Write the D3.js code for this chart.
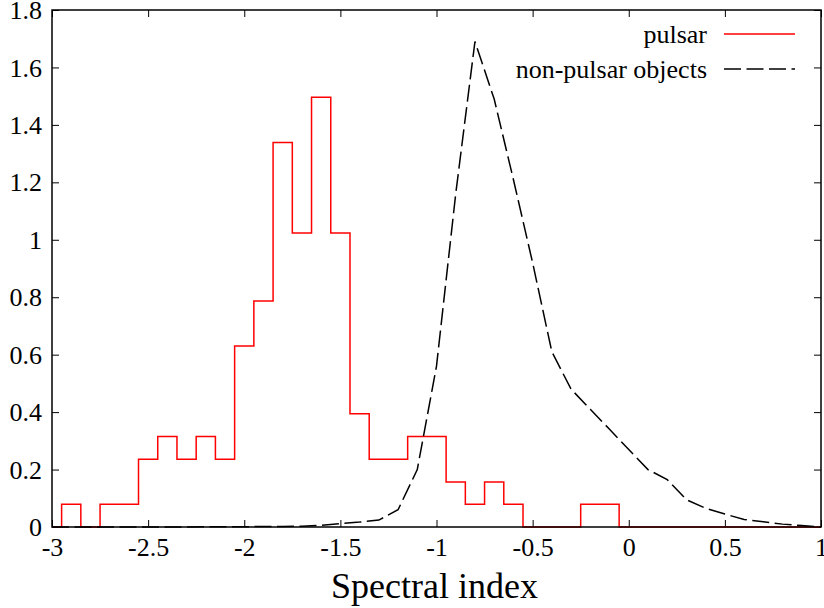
<!DOCTYPE html>
<html>
<head>
<meta charset="utf-8">
<script src="https://cdn.jsdelivr.net/npm/d3@7"></script>
<style>
  body { margin: 0; background: #fff; }
  svg text { font-family: "Liberation Serif", "Times New Roman", serif; fill: #000; }
</style>
</head>
<body>
<div id="chart"></div>
<script>
var svgWidth = 824;
var svgHeight = 608;

var margin = { top: 10, right: 3, bottom: 81, left: 52 };

var width = svgWidth - margin.left - margin.right;
var height = svgHeight - margin.top - margin.bottom;

// pulsar histogram, bin width 0.1, centres below
var binCenters = [-2.9, -2.8, -2.7, -2.6, -2.5, -2.4, -2.3, -2.2, -2.1, -2.0,
  -1.9, -1.8, -1.7, -1.6, -1.5, -1.4, -1.3, -1.2, -1.1, -1.0,
  -0.9, -0.8, -0.7, -0.6, -0.5, -0.4, -0.3, -0.2, -0.1, 0.0,
  0.1, 0.2, 0.3, 0.4, 0.5, 0.6, 0.7, 0.8, 0.9];
var pulsarValues = [0.079, 0, 0.079, 0.079, 0.236, 0.315, 0.236, 0.315, 0.236, 0.630,
  0.787, 1.339, 1.024, 1.496, 1.024, 0.394, 0.236, 0.236, 0.315, 0.315,
  0.157, 0.079, 0.157, 0.079, 0, 0, 0, 0.079, 0.079, 0,
  0, 0, 0, 0, 0, 0, 0, 0, 0];
var binWidth = 0.1;

// non-pulsar density curve
var otherX = [-3.0, -2.9, -2.8, -2.7, -2.6, -2.5, -2.4, -2.3, -2.2, -2.1, -2.0,
  -1.9, -1.8, -1.7, -1.6, -1.5, -1.4, -1.3, -1.2, -1.1, -1.0,
  -0.9, -0.8, -0.7, -0.6, -0.5, -0.4, -0.3, -0.2, -0.1, 0.0,
  0.1, 0.2, 0.3, 0.4, 0.5, 0.6, 0.7, 0.8, 0.9, 1.0];
var otherY = [0, 0, 0, 0, 0, 0, 0, 0, 0.001, 0.001, 0.001,
  0.002, 0.002, 0.003, 0.006, 0.012, 0.017, 0.024, 0.06, 0.2, 0.56,
  1.16, 1.69, 1.49, 1.21, 0.92, 0.61, 0.48, 0.41, 0.34, 0.27,
  0.2, 0.165, 0.095, 0.065, 0.045, 0.026, 0.018, 0.01, 0.005, 0];

var xTicks = [-3, -2.5, -2, -1.5, -1, -0.5, 0, 0.5, 1];
var yTicks = [0, 0.2, 0.4, 0.6, 0.8, 1, 1.2, 1.4, 1.6, 1.8];
var legendLabels = ["pulsar", "non-pulsar objects"];

var svg = d3.select("#chart")
  .append("svg")
  .attr("width", svgWidth)
  .attr("height", svgHeight);

var chartGroup = svg.append("g")
  .attr("transform", `translate(${margin.left}, ${margin.top})`);

var xScale = d3.scaleLinear().domain([-3, 1]).range([0, width]);
var yScale = d3.scaleLinear().domain([0, 1.8]).range([height, 0]);

// plain hyphen for negatives, like the original
var fmt = d => String(d);

// axes: ticks point inwards on all four sides
var bottomAxis = d3.axisBottom(xScale).tickValues(xTicks).tickSizeInner(-7).tickSizeOuter(0)
  .tickFormat(fmt);
var topAxis = d3.axisTop(xScale).tickValues(xTicks).tickSizeInner(-7).tickSizeOuter(0).tickFormat("");
var leftAxis = d3.axisLeft(yScale).tickValues(yTicks).tickSizeInner(-7).tickSizeOuter(0)
  .tickPadding(10).tickFormat(fmt);
var rightAxis = d3.axisRight(yScale).tickValues(yTicks).tickSizeInner(-7).tickSizeOuter(0).tickFormat("");

var xAxis = chartGroup.append("g")
  .attr("transform", `translate(0, ${height})`)
  .call(bottomAxis);
chartGroup.append("g").call(topAxis);
var yAxis = chartGroup.append("g").call(leftAxis);
chartGroup.append("g").attr("transform", `translate(${width}, 0)`).call(rightAxis);

chartGroup.selectAll("g").attr("font-family", null).attr("font-size", null);
chartGroup.selectAll(".domain").remove();
chartGroup.selectAll(".tick line").attr("stroke", "#000").attr("stroke-width", 1);
xAxis.selectAll("text")
  .attr("y", 29)
  .attr("dy", null)
  .style("font-size", "26px");
yAxis.selectAll("text")
  .attr("dy", "0.33em")
  .style("font-size", "26px");

// histogram as a step outline
var stepPoints = [[-3, 0], [binCenters[0] - binWidth / 2, 0]];
binCenters.forEach(function(c, i) {
  stepPoints.push([c - binWidth / 2, pulsarValues[i]]);
  stepPoints.push([c + binWidth / 2, pulsarValues[i]]);
});
stepPoints.push([binCenters[binCenters.length - 1] + binWidth / 2, 0]);
stepPoints.push([1, 0]);

var line = d3.line()
  .x(d => xScale(d[0]))
  .y(d => yScale(d[1]));

chartGroup.append("path")
  .attr("d", line(stepPoints))
  .attr("fill", "none")
  .attr("stroke", "#ff0000")
  .attr("stroke-width", 1.5);

chartGroup.append("path")
  .attr("d", line(otherX.map((x, i) => [x, otherY[i]])))
  .attr("fill", "none")
  .attr("stroke", "#000")
  .attr("stroke-width", 1.5)
  .attr("stroke-dasharray", "17,5.5");

// frame
chartGroup.append("rect")
  .attr("width", width)
  .attr("height", height)
  .attr("fill", "none")
  .attr("stroke", "#000")
  .attr("stroke-width", 1.5);

// legend
var legend = chartGroup.append("g");
legendLabels.forEach(function(label, i) {
  var ly = 24 + i * 35;
  legend.append("text")
    .attr("x", 655)
    .attr("y", ly)
    .attr("dy", "0.33em")
    .attr("text-anchor", "end")
    .style("font-size", "26px")
    .text(label);
  legend.append("line")
    .attr("x1", 672).attr("x2", 743)
    .attr("y1", ly).attr("y2", ly)
    .attr("stroke", i === 0 ? "#ff0000" : "#000")
    .attr("stroke-width", 1.5)
    .attr("stroke-dasharray", i === 0 ? null : "17,5.5");
});

// x axis title
svg.append("text")
  .attr("x", margin.left + width / 2 - 2)
  .attr("y", 598)
  .attr("text-anchor", "middle")
  .style("font-size", "36px")
  .text("Spectral index");
</script>
</body>
</html>
